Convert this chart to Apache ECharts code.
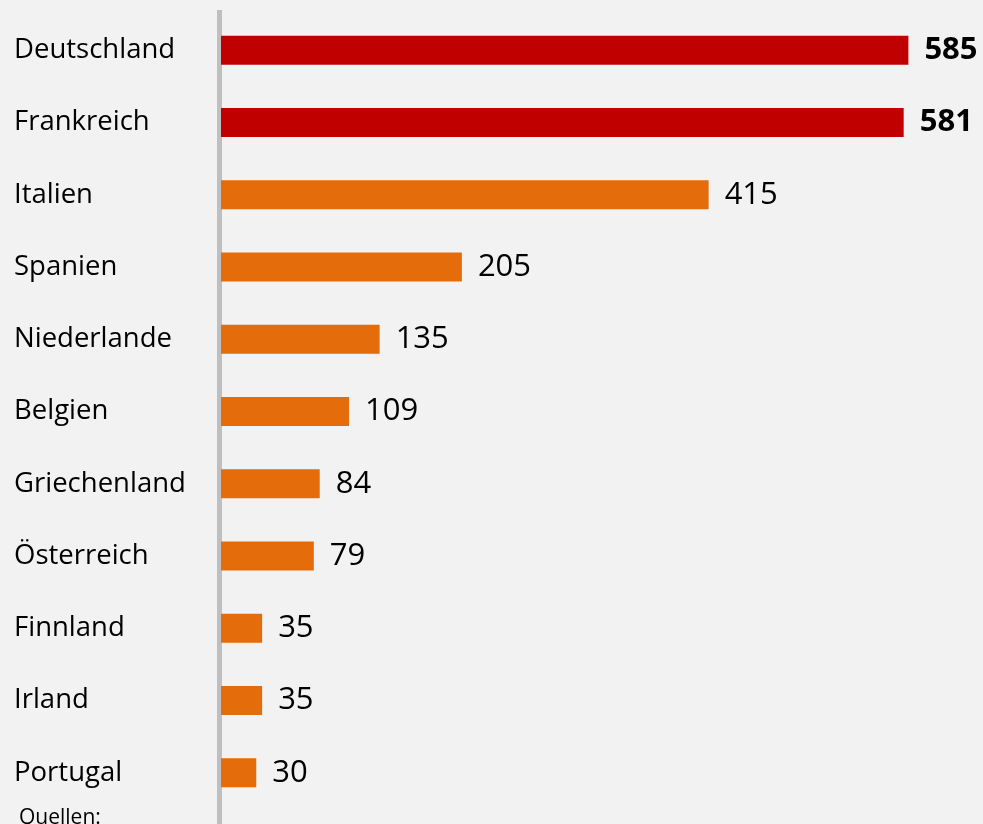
<!DOCTYPE html>
<html>
<head>
<meta charset="utf-8">
<script src="https://cdn.jsdelivr.net/npm/echarts@6/dist/echarts.min.js"></script>
<style>
	html, body { margin: 0; padding: 0; background: #f2f2f2; }
	#chart { width: 983px; height: 824px; }
</style>
</head>
<body>
<div id="chart"></div>
<script>
const countries = [
	'Deutschland', 'Frankreich', 'Italien', 'Spanien', 'Niederlande',
	'Belgien', 'Griechenland', 'Österreich', 'Finnland', 'Irland', 'Portugal'
];
const amounts = [585, 581, 415, 205, 135, 109, 84, 79, 35, 35, 30];
// the two biggest are drawn red with bold labels
const highlighted = [true, true, false, false, false, false, false, false, false, false, false];

const red = '#c00000';
const orange = '#e46c0a';

var chart = echarts.init(document.getElementById('chart'));

let barData = []
for (let i = 0; i < amounts.length; i++) {
	let hi = highlighted[i];
	barData.push({
		value: amounts[i],
		itemStyle: { color: hi ? red : orange },
		label: { fontWeight: hi ? 'bold' : 'normal' }
	})
}

var option = {
	backgroundColor: '#f2f2f2',
	animation: false,
	grid: {
		left: 221,
		right: 57,
		top: 14,
		bottom: 15
	},
	xAxis: {
		type: 'value',
		min: 0,
		max: 600,
		show: false
	},
	yAxis: {
		type: 'category',
		inverse: true,
		data: countries,
		axisLine: { show: false },
		axisTick: { show: false },
		axisLabel: {
			align: 'left',
			margin: 207,
			color: '#000',
			fontFamily: 'Open Sans',
			fontSize: 27.5
		}
	},
	series: [
		{
			type: 'bar',
			barWidth: 29,
			data: barData,
			label: {
				show: true,
				position: 'right',
				distance: 16,
				color: '#000',
				fontFamily: 'Open Sans',
				fontSize: 31
			}
		}
	],
	graphic: [
		{
			type: 'line',
			shape: { x1: 219.5, y1: 10, x2: 219.5, y2: 824 },
			style: { stroke: '#bfbfbf', lineWidth: 5 },
			z: 0
		},
		{
			type: 'text',
			left: 19,
			top: 808,
			style: {
				text: 'Quellen:',
				fill: '#000',
				font: '21px "Open Sans"'
			}
		}
	]
};

chart.setOption(option);
</script>
</body>
</html>
